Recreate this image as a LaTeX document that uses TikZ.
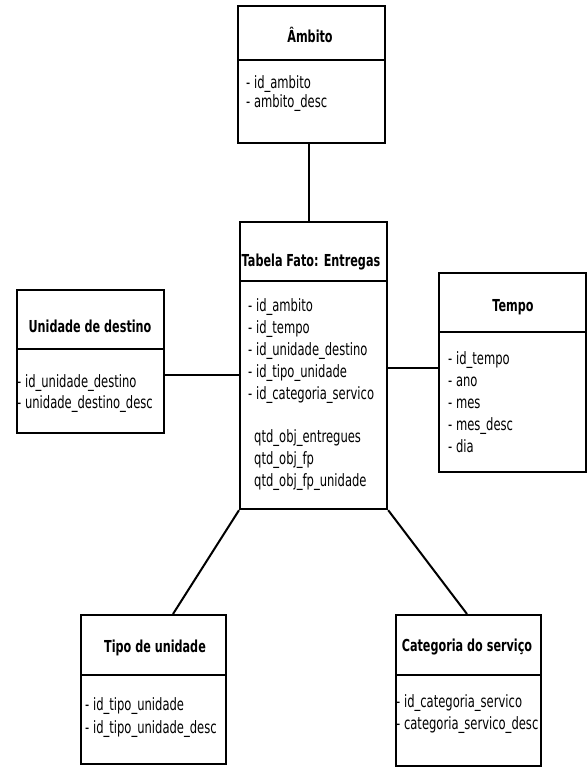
\documentclass[tikz,border=0pt]{standalone}
\usepackage{fontspec}
\setmainfont{DejaVu Sans}[FakeStretch=0.68]
\usetikzlibrary{calc}
\begin{document}
\begin{tikzpicture}[x=1pt,y=-1pt,
  tbl/.style={draw,line width=2.2pt,rectangle,inner sep=0pt,anchor=north west},
  divl/.style={line width=2.2pt},
  conn/.style={line width=2pt},
  ttl/.style={font=\fontsize{16.5}{18}\selectfont\bfseries,inner sep=0pt},
  lst/.style={font=\fontsize{17}{22}\selectfont,align=left,inner sep=0pt,anchor=west}]
\useasboundingbox (0,0) rectangle (587,767);
% boxes
\node[tbl,minimum width=147pt,minimum height=137pt] (amb) at (237,5) {};
\node[tbl,minimum width=147pt,minimum height=287pt] (fact) at (239,221) {};
\node[tbl,minimum width=147pt,minimum height=143pt] (uni) at (16,289) {};
\node[tbl,minimum width=147pt,minimum height=199pt] (tempo) at (438,272) {};
\node[tbl,minimum width=145pt,minimum height=149pt] (tipo) at (80,614) {};
\node[tbl,minimum width=145pt,minimum height=151pt] (cat) at (395,614) {};
% dividers
\draw[divl] (amb.west |- 0,60) -- (amb.east |- 0,60);
\draw[divl] (fact.west |- 0,281) -- (fact.east |- 0,281);
\draw[divl] (uni.west |- 0,349) -- (uni.east |- 0,349);
\draw[divl] (tempo.west |- 0,332) -- (tempo.east |- 0,332);
\draw[divl] (tipo.west |- 0,675) -- (tipo.east |- 0,675);
\draw[divl] (cat.west |- 0,675) -- (cat.east |- 0,675);
% titles
\node[ttl] (ambT) at (310,35) {Âmbito};
\node[ttl] (factT) at (311,262) {Tabela Fato: Entregas};
\node[ttl] (uniT) at (90,326) {Unidade de destino};
\node[ttl] (tempoT) at (513,307) {Tempo};
\node[ttl] (tipoT) at (155,648) {Tipo de unidade};
\node[ttl] (catT) at (467,647) {Categoria do serviço};
% lists
\node[lst,font=\fontsize{17}{19}\selectfont] (ambL) at (246,93.5) {- id\_ambito\\- ambito\_desc};
\node[lst] (factL) at (248,351) {- id\_ambito\\- id\_tempo\\- id\_unidade\_destino\\- id\_tipo\_unidade\\- id\_categoria\_servico};
\node[lst] (factQ) at (254,460) {qtd\_obj\_entregues\\qtd\_obj\_fp\\qtd\_obj\_fp\_unidade};
\node[lst,font=\fontsize{17}{21}\selectfont] (uniL) at (17,393.5) {- id\_unidade\_destino\\- unidade\_destino\_desc};
\node[lst] (tempoL) at (448,402.5) {- id\_tempo\\- ano\\- mes\\- mes\_desc\\- dia};
\node[lst,font=\fontsize{17}{22.5}\selectfont] (tipoL) at (85,717.5) {- id\_tipo\_unidade\\- id\_tipo\_unidade\_desc};
\node[lst] (catL) at (396,714) {- id\_categoria\_servico\\- categoria\_servico\_desc};
% connectors
\draw[conn] (amb.south -| 309,0) -- (fact.north -| 309,0);
\draw[conn] (uni.east |- 0,375) -- (fact.west |- 0,375);
\draw[conn] (fact.east |- 0,368) -- (tempo.west |- 0,368);
\draw[conn] (fact.south west) -- (tipo.north -| 173,0);
\draw[conn] (fact.south east) -- (cat.north -| 467,0);
\end{tikzpicture}
\end{document}
